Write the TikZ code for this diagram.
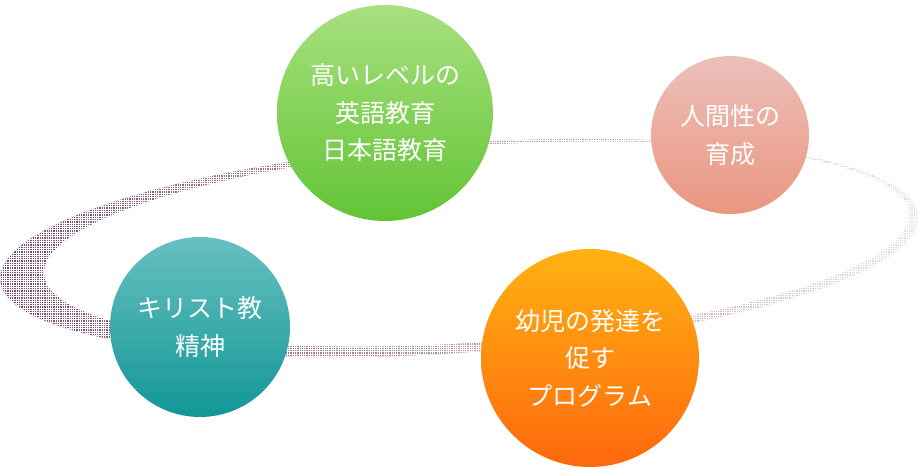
\documentclass[tikz,border=0pt]{standalone}
\usepackage{fontspec}
\newfontfamily\jpfont{Noto Sans CJK JP}
\definecolor{ringdark}{RGB}{118,70,104}
\definecolor{ringmid}{RGB}{185,145,172}
\definecolor{ringlight}{RGB}{236,218,228}
\definecolor{greentop}{RGB}{168,224,128}
\definecolor{greenbot}{RGB}{98,196,52}
\definecolor{pinktop}{RGB}{236,192,186}
\definecolor{pinkbot}{RGB}{234,150,128}
\definecolor{tealtop}{RGB}{104,192,192}
\definecolor{tealbot}{RGB}{18,150,150}
\definecolor{orangetop}{RGB}{255,178,18}
\definecolor{orangebot}{RGB}{255,104,14}

\begin{document}
\begin{tikzpicture}[
  x=1pt, y=-1pt,
  bubble/.style={circle, inner sep=0pt, text=white, align=center,
    font=\jpfont\fontsize{25}{37.5}\selectfont},
  outerring/.style={rotate around={4:(459,248)}},
  innerring/.style={rotate around={4:(476.5,244)}}
]
  \useasboundingbox (0,0) rectangle (920,470);
  % dotted ring behind the circles
  \shade[outerring, left color=ringdark, middle color=ringmid, right color=ringlight]
    (459,248) ellipse [x radius=460, y radius=104.6];
  \begin{scope}
    \clip[outerring] (459,248) ellipse [x radius=460, y radius=104.6];
    \draw[white, line width=1pt, step=2.3pt] (-10,120) grid (930,380);
  \end{scope}
  \fill[white, innerring] (476.5,244) ellipse [x radius=433.5, y radius=98.2];
  % the four circles
  \node[bubble, minimum size=216pt, top color=greentop, bottom color=greenbot]
    (language) at (385,113) {高いレベルの\\英語教育\\日本語教育};
  \node[bubble, minimum size=158pt, top color=pinktop, bottom color=pinkbot]
    (human) at (730,135) {人間性の\\育成};
  \node[bubble, minimum size=180pt, top color=tealtop, bottom color=tealbot]
    (faith) at (200,327) {キリスト教\\精神};
  \node[bubble, minimum size=218pt, top color=orangetop, bottom color=orangebot]
    (program) at (590,358) {幼児の発達を\\促す\\プログラム};
\end{tikzpicture}
\end{document}
